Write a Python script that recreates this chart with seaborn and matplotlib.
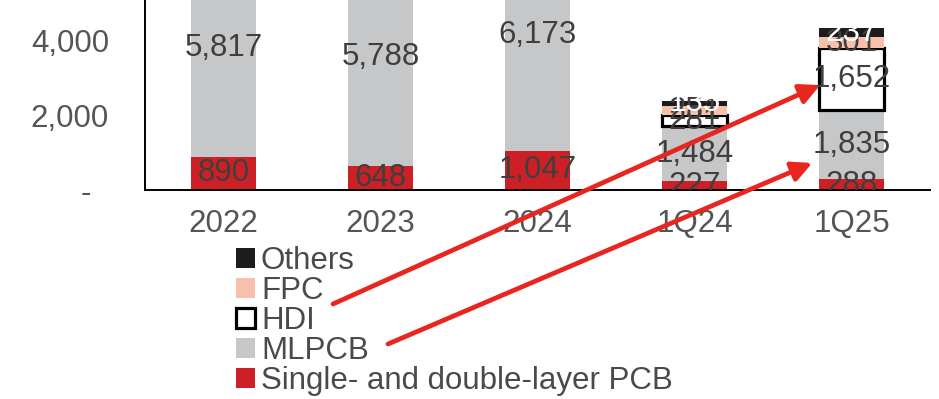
import numpy as np
import pandas as pd
import matplotlib
matplotlib.use("Agg")
import matplotlib.pyplot as plt
from matplotlib.patches import Patch
import seaborn as sns

sns.set_theme(style="white")
plt.rcParams['font.family'] = ['Liberation Sans', 'DejaVu Sans']

categories = ["2022", "2023", "2024", "1Q24", "1Q25"]
single_double = [890, 648, 1047, 227, 288]
mlpcb = [5817, 5788, 6173, 1484, 1835]
hdi = [np.nan, np.nan, np.nan, 281, 1652]
fpc = [np.nan, np.nan, np.nan, 251, 301]
others = [np.nan, np.nan, np.nan, 135, 237]

series_names = ["Single- and double-layer PCB", "MLPCB", "HDI", "FPC", "Others"]
series_vals = [single_double, mlpcb, hdi, fpc, others]
face = {"Single- and double-layer PCB": "#cc2026", "MLPCB": "#c6c7c9",
        "HDI": "#ffffff", "FPC": "#f6c0aa", "Others": "#1c1c1c"}
txtcol = {"Single- and double-layer PCB": "#3f3f3f", "MLPCB": "#3f3f3f",
          "HDI": "#3f3f3f", "FPC": "#3f3f3f", "Others": "#ffffff"}

FS = 22.5
W, H = 939, 399
fig = plt.figure(figsize=(W / 100, H / 100), dpi=100)
ax = fig.add_axes([145 / W, 1 - 190 / H, 785 / W, 190 / H])

bar_w = 0.42
bottom = np.zeros(len(categories))
label_info = []
for name, vals in zip(series_names, series_vals):
    v = np.array(vals, dtype=float)
    df = pd.DataFrame({"cat": categories, "val": v, "bot": bottom.copy()})
    df = df[~df["val"].isna()]
    kw = dict(edgecolor="black", linewidth=2.3) if name == "HDI" else dict(linewidth=0)
    sns.barplot(data=df, x="cat", y="val", order=categories, color=face[name],
                saturation=1, width=bar_w, bottom=df["bot"].to_numpy(), ax=ax,
                errorbar=None, **kw)
    for i, val in enumerate(v):
        if not np.isnan(val):
            label_info.append((i, bottom[i] + val / 2, f"{int(val):,}", txtcol[name]))
    bottom = bottom + np.nan_to_num(v)

for i, y, s, c in label_info:
    ax.text(i, y, s, ha="center", va="center", fontsize=FS, color=c, clip_on=True)

ax.set_xlim(-0.5, len(categories) - 0.5)
ax.set_ylim(0, 5067)
ax.set_yticks([0, 2000, 4000])
ax.set_yticklabels(["-  ", "2,000", "4,000"])
ax.set_xlabel("")
ax.set_ylabel("")
ax.tick_params(axis="y", length=0, pad=26, labelsize=FS, labelcolor="#555555")
ax.tick_params(axis="x", length=0, pad=14, labelsize=FS, labelcolor="#555555")
for s in ["top", "right"]:
    ax.spines[s].set_visible(False)
for s in ["left", "bottom"]:
    ax.spines[s].set_color("black")
    ax.spines[s].set_linewidth(1.4)

# legend
handles = []
for name in ["Others", "FPC", "HDI", "MLPCB", "Single- and double-layer PCB"]:
    if name == "HDI":
        handles.append(Patch(facecolor="white", edgecolor="black", linewidth=2.3, label=name))
    else:
        handles.append(Patch(facecolor=face[name], edgecolor="none", label=name))
leg = fig.legend(handles=handles, loc="upper left", bbox_to_anchor=(236 / W, 1 - 246 / H),
                 frameon=False, fontsize=FS, handlelength=0.6, handleheight=0.6,
                 handletextpad=0.2, labelspacing=0.0, borderpad=0, borderaxespad=0)
for t in leg.get_texts():
    t.set_color("#4a4a4a")

# arrows from legend to 1Q25 segments
hdi_mid = single_double[4] + mlpcb[4] + hdi[4] / 2
ml_mid = single_double[4] + mlpcb[4] / 2
arrow_kw = dict(arrowstyle="-|>,head_length=1.0,head_width=0.5", color="#e8251f",
                lw=3.4, shrinkA=0, shrinkB=0)
ax.annotate("", xy=(4 - bar_w / 2 + 0.01, hdi_mid - 150), xycoords="data",
            xytext=(333, H - 304), textcoords="figure pixels",
            arrowprops=arrow_kw, annotation_clip=False)
ax.annotate("", xy=(4 - bar_w / 2 - 0.04, ml_mid - 485), xycoords="data",
            xytext=(388, H - 344), textcoords="figure pixels",
            arrowprops=arrow_kw, annotation_clip=False)

fig.savefig("out.png", dpi=100)
